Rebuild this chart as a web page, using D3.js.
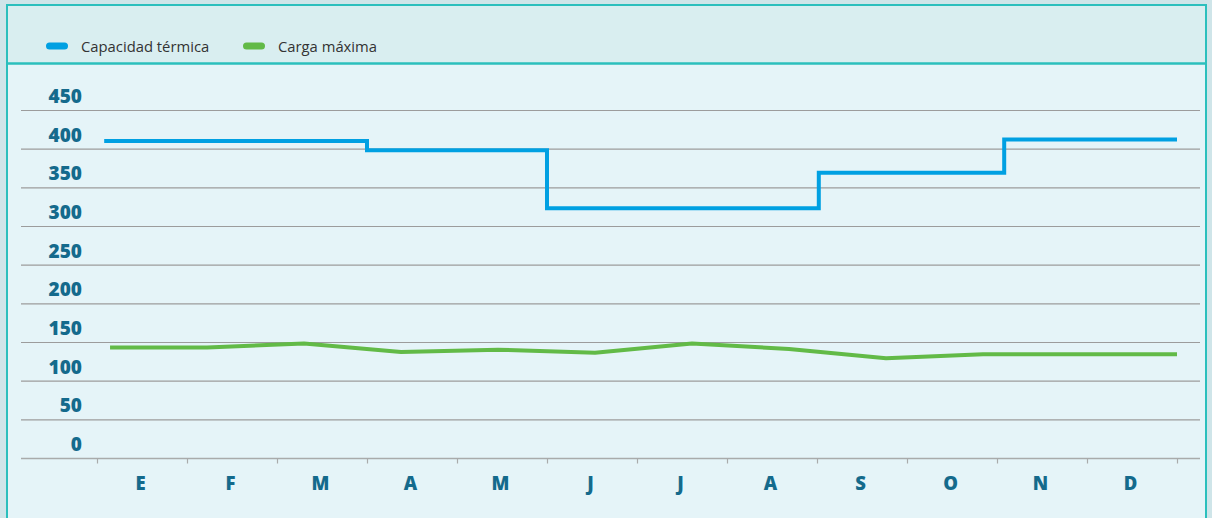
<!DOCTYPE html>
<html>
<head>
<meta charset="utf-8">
<script src="https://cdn.jsdelivr.net/npm/d3@7"></script>
<style>
  html, body { margin: 0; padding: 0; background: #cfe5e9; }
  svg { display: block; }
</style>
</head>
<body>
<svg id="chart" width="1212" height="518"></svg>
<script>
// ---- data ----
const months = ["E", "F", "M", "A", "M", "J", "J", "A", "S", "O", "N", "D"];
const yTicks = [0, 50, 100, 150, 200, 250, 300, 350, 400, 450];
const seriesNames = ["Capacidad térmica", "Carga máxima"];
// Capacidad térmica: step series, breakpoints (in months) and level of each step
const capacidadBreaks = [0.08, 3, 5, 8.02, 10.08, 12];
const capacidadValues = [410, 398, 323, 369, 412];
// Carga máxima: one value per month
const cargaValues = [143, 143, 148, 137, 140, 136, 148, 141, 129, 134, 134, 134];

// ---- layout ----
const W = 1212, H = 518;
const colors = { cap: "#00a0e2", carga: "#62ba47", teal: "#2bbfbd", label: "#146a8c", grid: "#9c9c9c" };

const svg = d3.select("#chart");

// backgrounds
svg.append("rect").attr("x", 0).attr("y", 0).attr("width", W).attr("height", H).attr("fill", "#cfe5e9");
svg.append("rect").attr("x", 7).attr("y", 5).attr("width", 1199).attr("height", 58).attr("fill", "#d9eef0");
svg.append("rect").attr("x", 7).attr("y", 63).attr("width", 1199).attr("height", 460).attr("fill", "#e5f4f8");
// borders
svg.append("rect").attr("x", 7).attr("y", 5).attr("width", 1199).attr("height", 530)
  .attr("fill", "none").attr("stroke", colors.teal).attr("stroke-width", 2);
svg.append("line").attr("x1", 7).attr("x2", 1206).attr("y1", 63.5).attr("y2", 63.5)
  .attr("stroke", colors.teal).attr("stroke-width", 2.5);

// scales
const x = d3.scaleLinear().domain([0, 12]).range([97, 1177]);
const y = d3.scaleLinear().domain([0, 450]).range([458, 110]);
const xPts = d3.scalePoint().domain(d3.range(months.length)).range([x(0.145), x(12)]);

// gridlines
const gridG = svg.append("g");
gridG.selectAll("line").data(yTicks).join("line")
  .attr("x1", 21).attr("x2", 1200)
  .attr("y1", d => y(d) + 0.5).attr("y2", d => y(d) + 0.5)
  .attr("stroke", d => d === 0 ? "#a9abab" : colors.grid)
  .attr("stroke-width", d => d === 0 ? 1.6 : 1.1);

// y labels (sit above their gridline)
svg.append("g").selectAll("text").data(yTicks).join("text")
  .attr("x", 82).attr("y", d => y(d) - 7)
  .attr("text-anchor", "end")
  .attr("font-family", "'Open Sans', sans-serif").attr("font-weight", 800)
  .attr("font-size", 19).attr("fill", colors.label)
  .text(d => d);

// x axis ticks and labels
const xAxis = d3.axisBottom(x).tickValues(d3.range(0, 13)).tickSize(5).tickFormat("");
const xg = svg.append("g").attr("transform", "translate(0,458.5)").call(xAxis);
xg.select(".domain").remove();
xg.selectAll(".tick line").attr("stroke", "#a9abab").attr("stroke-width", 1.2);

svg.append("g").selectAll("text").data(months).join("text")
  .attr("x", (d, i) => x(i + 0.5) - 1.5).attr("y", 490)
  .attr("text-anchor", "middle")
  .attr("font-family", "'Open Sans', sans-serif").attr("font-weight", 800)
  .attr("font-size", 18.5).attr("fill", colors.label)
  .text(d => d);

// Capacidad térmica step line
const stepPts = [];
capacidadValues.forEach((v, i) => {
  stepPts.push([capacidadBreaks[i], v]);
  stepPts.push([capacidadBreaks[i + 1], v]);
});
svg.append("path")
  .attr("d", d3.line().x(d => x(d[0])).y(d => y(d[1]))(stepPts))
  .attr("fill", "none").attr("stroke", colors.cap).attr("stroke-width", 4)
  .attr("stroke-linejoin", "miter");

// Carga máxima line
svg.append("path")
  .attr("d", d3.line().x((d, i) => xPts(i)).y(d => y(d))(cargaValues))
  .attr("fill", "none").attr("stroke", colors.carga).attr("stroke-width", 4)
  .attr("stroke-linejoin", "round");

// legend
const legend = svg.append("g");
const legItems = [
  { name: seriesNames[0], color: colors.cap, x: 46 },
  { name: seriesNames[1], color: colors.carga, x: 243 }
];
legItems.forEach(it => {
  legend.append("rect").attr("x", it.x).attr("y", 42.5).attr("width", 22).attr("height", 7)
    .attr("rx", 3.5).attr("fill", it.color);
  legend.append("text").attr("x", it.x + 35).attr("y", 51.5)
    .attr("font-family", "'Open Sans', sans-serif").attr("font-size", 14.8)
    .attr("fill", "#333").text(it.name);
});
</script>
</body>
</html>
